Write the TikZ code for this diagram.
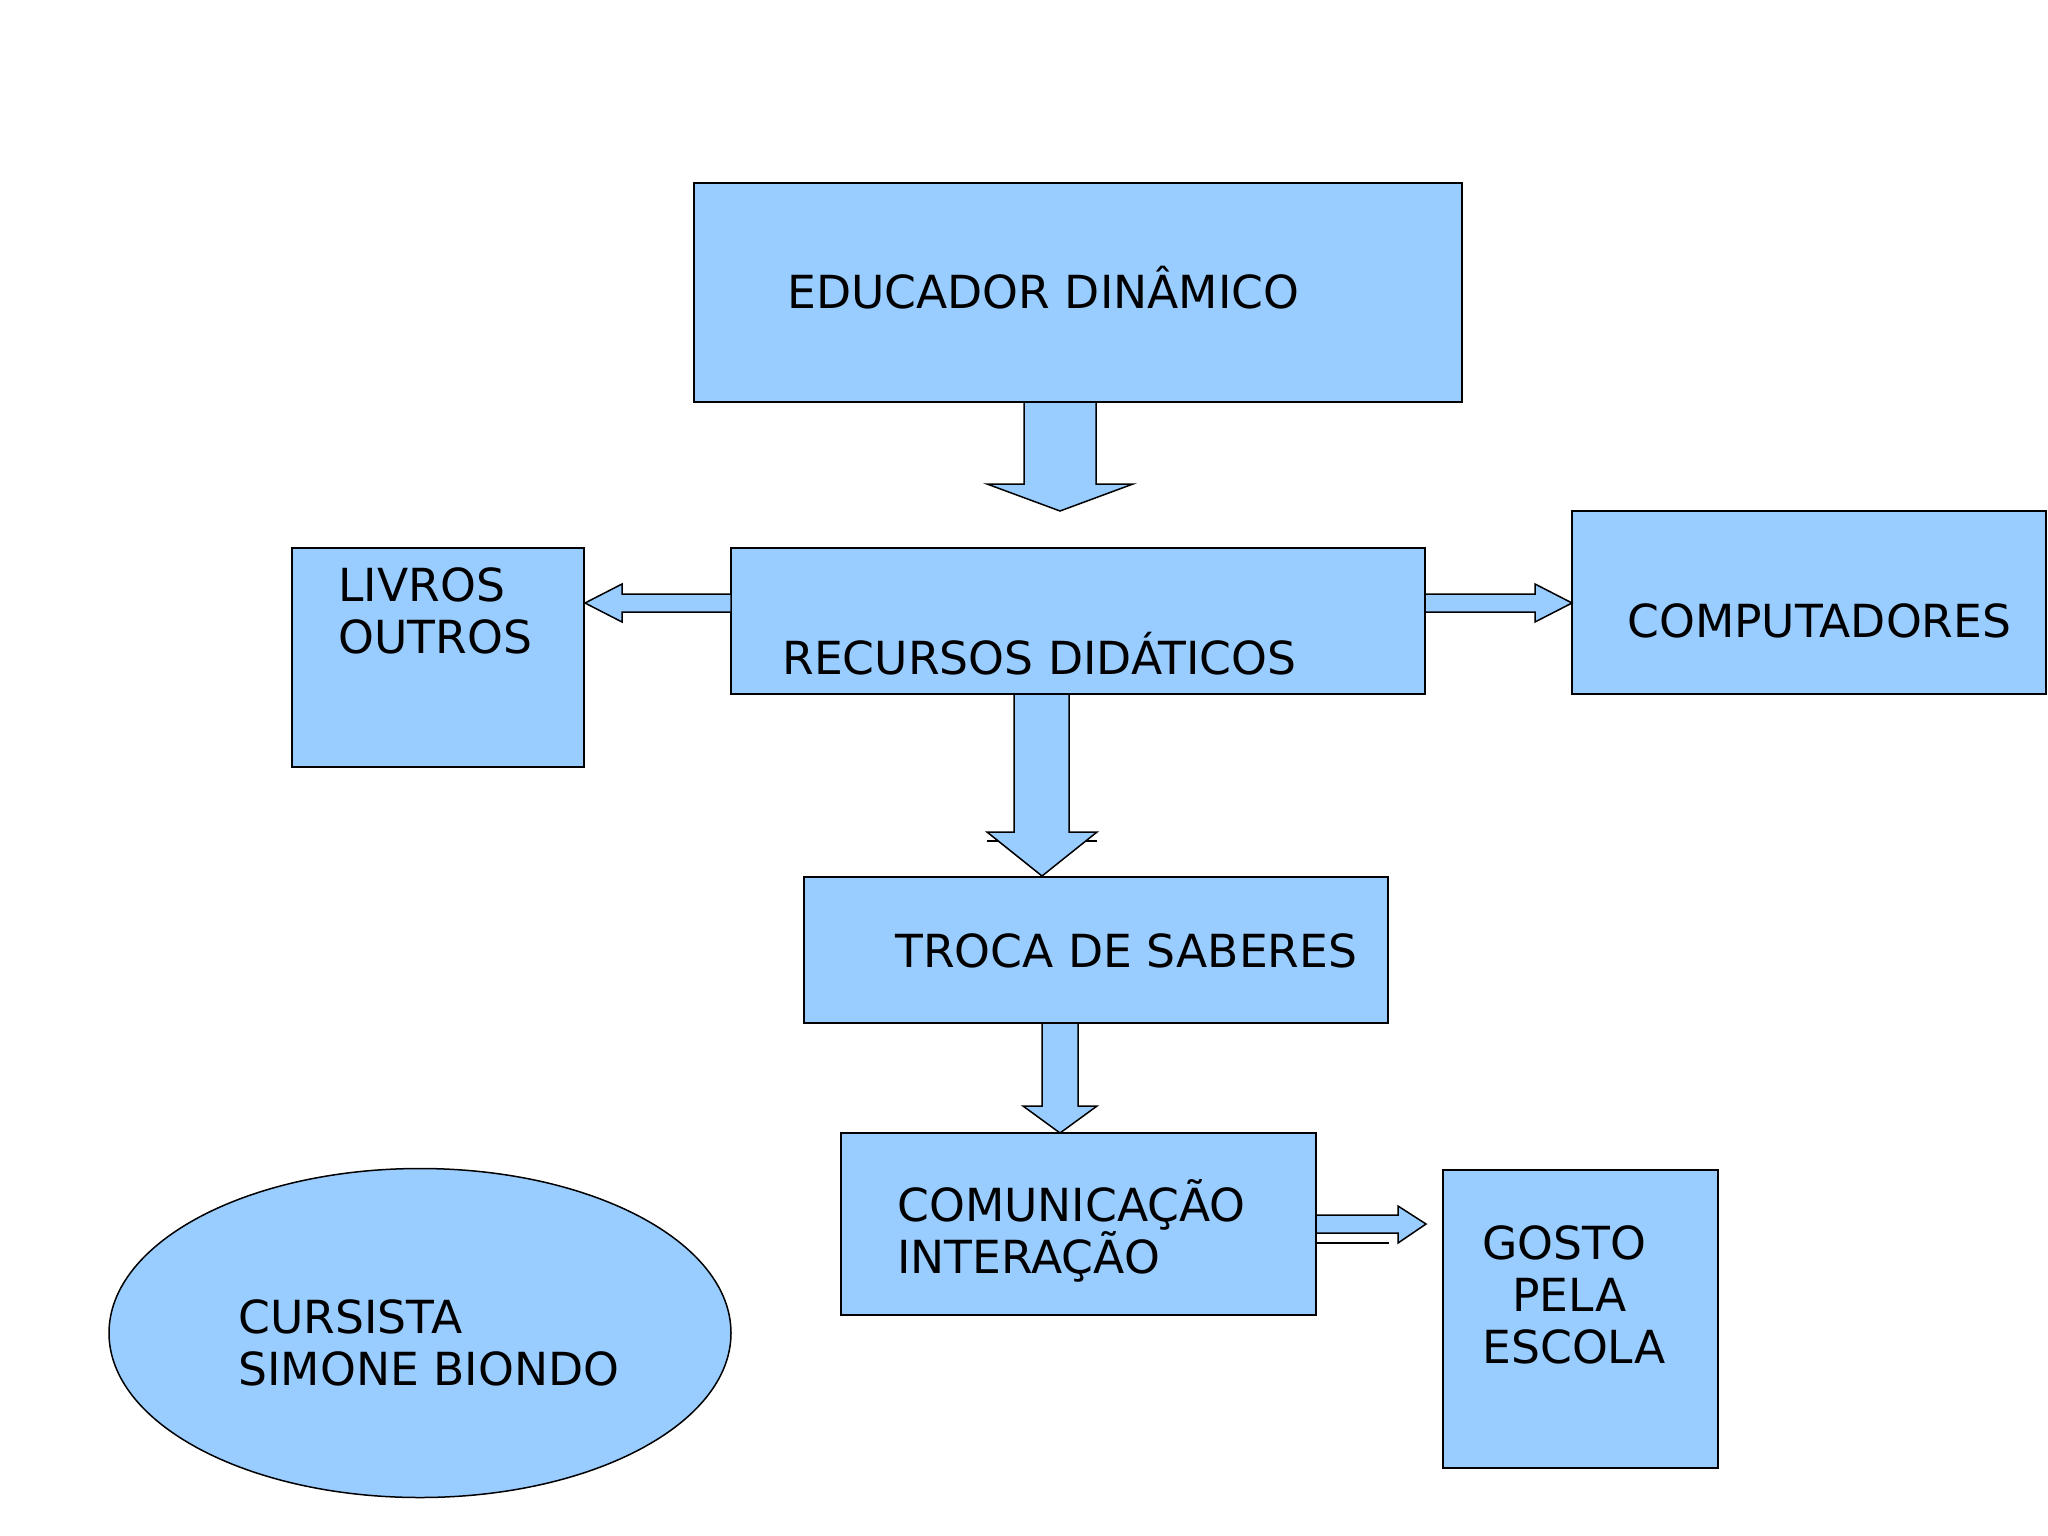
\documentclass[tikz,border=0pt]{standalone}
\usepackage{fontspec}
\setmainfont{DejaVu Sans}
\usetikzlibrary{shapes.geometric}
\definecolor{boxblue}{RGB}{153,204,255}
\tikzset{
  box/.style={draw=black, fill=boxblue, line width=0.75pt, inner sep=0pt, rectangle},
  lbl/.style={inner sep=0pt, anchor=base west, align=left, font=\fontsize{22.8}{26}\selectfont},
  barrow/.style={draw=black, fill=boxblue, line width=0.75pt, line join=miter},
  thin/.style={draw=black, line width=0.75pt}
}
\begin{document}
\begin{tikzpicture}[x=0.5pt,y=-0.5pt]
\useasboundingbox (0,0) rectangle (2048,1535);
% boxes
\node[box, minimum width=384pt, minimum height=109.5pt] (edu) at (1078,292.5) {};
\node[box, minimum width=347pt, minimum height=73pt] (rec) at (1078,621) {};
\node[box, minimum width=146pt, minimum height=109.5pt] (liv) at (438,657.5) {};
\node[box, minimum width=237pt, minimum height=91.5pt] (comp) at (1809,602.5) {};
\node[box, minimum width=292pt, minimum height=73pt] (troca) at (1096,950) {};
\node[box, minimum width=237.5pt, minimum height=91pt] (com) at (1078.5,1224) {};
\node[box, minimum width=137.5pt, minimum height=149pt] (gosto) at (1580.5,1319) {};
\node[box, ellipse, minimum width=311pt, minimum height=164.5pt] (curs) at (420,1333) {};
% labels (base = baseline of last line)
\node[lbl] (tedu) at (787,309) {EDUCADOR DINÂMICO};
\node[lbl] (trec) at (782,674) {RECURSOS DIDÁTICOS};
\node[lbl] (tliv) at (338,653) {LIVROS\\OUTROS};
\node[lbl] (tcomp) at (1627,637) {COMPUTADORES};
\node[lbl] (ttroca) at (895,967) {TROCA DE SABERES};
\node[lbl] (tcom) at (897,1273) {COMUNICAÇÃO\\INTERAÇÃO};
\node[lbl] (tgosto) at (1482,1363) {GOSTO\\\hspace*{15pt}PELA\\ESCOLA};
\node[lbl] (tcurs) at (238,1385) {CURSISTA\\SIMONE BIONDO};
% block arrows
\draw[barrow] (1024,402) -- (1096,402) -- (1096,484) -- (1133,484) -- (1060,511) -- (987,484) -- (1024,484) -- cycle;
\draw[barrow] (731,594) -- (622,594) -- (622,584) -- (585,603) -- (622,622) -- (622,612) -- (731,612) -- cycle;
\draw[barrow] (1425,594) -- (1535,594) -- (1535,584) -- (1572,603) -- (1535,622) -- (1535,612) -- (1425,612) -- cycle;
\draw[thin] (987,841) -- (1097,841);
\draw[barrow] (1014,694) -- (1069,694) -- (1069,832) -- (1097,832) -- (1042,876) -- (987,832) -- (1014,832) -- cycle;
\draw[barrow] (1042,1023) -- (1078,1023) -- (1078,1106) -- (1097,1106) -- (1060,1133) -- (1023,1106) -- (1042,1106) -- cycle;
\draw[barrow] (1316,1215) -- (1398,1215) -- (1398,1206) -- (1426,1224) -- (1398,1243) -- (1398,1233) -- (1316,1233) -- cycle;
\draw[thin] (1316,1243) -- (1389,1243);
\end{tikzpicture}
\end{document}
